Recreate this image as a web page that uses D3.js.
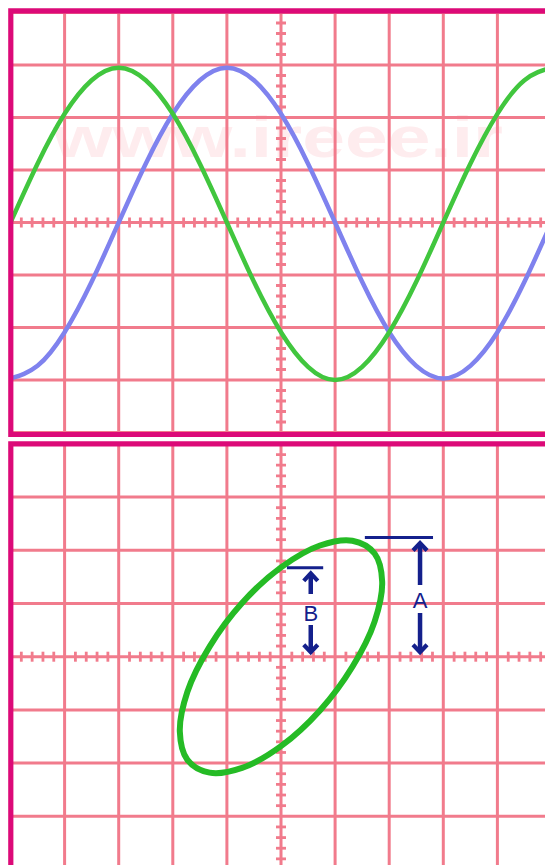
<!DOCTYPE html>
<html>
<head>
<meta charset="utf-8">
<script src="https://cdn.jsdelivr.net/npm/d3@7"></script>
<style>
  html, body { margin: 0; padding: 0; background: #ffffff; }
  svg { display: block; }
</style>
</head>
<body>
<div id="chart"></div>
<script>
// ---------------- data (in screen divisions) ----------------
const sampleX = [-5, -4.5, -4, -3.5, -3, -2.5, -2, -1.5, -1, -0.5, 0, 0.5, 1, 1.5, 2, 2.5, 3, 3.5, 4, 4.5, 5];
const greenWave = [0, 1.12, 2.07, 2.71, 2.95, 2.71, 2.07, 1.12, 0, -1.13, -2.09, -2.75, -3.0, -2.75, -2.09, -1.13, 0, 1.12, 2.07, 2.71, 2.95];
const blueWave  = [-2.97, -2.73, -2.09, -1.13, 0, 1.12, 2.07, 2.71, 2.95, 2.71, 2.07, 1.12, 0, -1.13, -2.09, -2.73, -2.97, -2.73, -2.09, -1.13, 0];
const ellipseX = [0, 0.72, 1.32, 1.73, 1.87, 1.73, 1.32, 0.72, 0, -0.72, -1.32, -1.73, -1.87, -1.73, -1.32, -0.72];
const ellipseY = [1.68, 2.09, 2.18, 1.94, 1.41, 0.66, -0.19, -1.01, -1.68, -2.09, -2.18, -1.94, -1.41, -0.66, 0.19, 1.01];
const markerLabels = ["A", "B"];
const markerLevels = [2.24, 1.67];
const gridDivsX = [-5, -4, -3, -2, -1, 0, 1, 2, 3, 4, 5];
const gridDivsY = [-4, -3, -2, -1, 0, 1, 2, 3, 4];
const watermark = "www.ireee.ir";

// ---------------- layout ----------------
const W = 545, H = 865;
const svg = d3.select("#chart").append("svg").attr("width", W).attr("height", H);
svg.append("rect").attr("width", W).attr("height", H).attr("fill", "#ffffff");

const x = d3.scaleLinear().domain([-5, 5]).range([281 - 5 * 54.1, 281 + 5 * 54.1]);
const yTop = d3.scaleLinear().domain([-4, 4]).range([222.5 + 4 * 52.5, 222.5 - 4 * 52.5]);
const yBot = d3.scaleLinear().domain([-4, 4]).range([656.7 + 4 * 53.2, 656.7 - 4 * 53.2]);

const GRID = "#f17b8c";
const BORDER = "#dc0a78";
const NAVY = "#14208c";

const defs = svg.append("defs");
defs.append("clipPath").attr("id", "clipTop").append("rect")
  .attr("x", 11).attr("y", 11).attr("width", W).attr("height", 434.5 - 11);
defs.append("clipPath").attr("id", "clipBot").append("rect")
  .attr("x", 11).attr("y", 443.8).attr("width", W).attr("height", H);

function drawPanel(y, clipId, withWatermark) {
  const g = svg.append("g").attr("clip-path", `url(#${clipId})`);
  if (withWatermark) {
    g.append("text")
      .attr("x", 53).attr("y", 157)
      .attr("textLength", 450).attr("lengthAdjust", "spacingAndGlyphs")
      .attr("font-family", "Liberation Sans, Arial, sans-serif")
      .attr("font-weight", "bold").attr("font-size", 58)
      .attr("fill", "#feecee")
      .text(watermark);
  }
  g.selectAll("line.vg").data(gridDivsX).join("line").attr("class", "vg")
    .attr("x1", d => x(d)).attr("x2", d => x(d))
    .attr("y1", y(4)).attr("y2", y(-4))
    .attr("stroke", GRID).attr("stroke-width", 3);
  g.selectAll("line.hg").data(gridDivsY).join("line").attr("class", "hg")
    .attr("y1", d => y(d)).attr("y2", d => y(d))
    .attr("x1", x(-5)).attr("x2", x(5))
    .attr("stroke", GRID).attr("stroke-width", 3);
  // minor ticks on center axes
  const minorX = d3.range(-25, 26).filter(i => i % 5 !== 0).map(i => i / 5);
  const minorY = d3.range(-20, 21).filter(i => i % 5 !== 0).map(i => i / 5);
  g.selectAll("line.tx").data(minorX).join("line").attr("class", "tx")
    .attr("x1", d => x(d)).attr("x2", d => x(d))
    .attr("y1", y(0) - 5).attr("y2", y(0) + 5)
    .attr("stroke", GRID).attr("stroke-width", 2.8);
  g.selectAll("line.ty").data(minorY).join("line").attr("class", "ty")
    .attr("y1", d => y(d)).attr("y2", d => y(d))
    .attr("x1", x(0) - 5).attr("x2", x(0) + 5)
    .attr("stroke", GRID).attr("stroke-width", 2.8);
  return g;
}

const gTop = drawPanel(yTop, "clipTop", true);
const gBot = drawPanel(yBot, "clipBot", false);

// ---------------- top panel waves ----------------
const waveLine = d3.line().x(d => x(d[0])).y(d => yTop(d[1])).curve(d3.curveNatural);
gTop.append("path").datum(sampleX.map((v, i) => [v, blueWave[i]]))
  .attr("d", waveLine).attr("fill", "none").attr("stroke", "#7f82ee").attr("stroke-width", 4.5);
gTop.append("path").datum(sampleX.map((v, i) => [v, greenWave[i]]))
  .attr("d", waveLine).attr("fill", "none").attr("stroke", "#41c63e").attr("stroke-width", 4.5);

// ---------------- bottom panel lissajous ----------------
const ellLine = d3.line().x(d => x(d[0])).y(d => yBot(d[1])).curve(d3.curveCatmullRomClosed.alpha(0.5));
gBot.append("path").datum(ellipseX.map((v, i) => [v, ellipseY[i]]))
  .attr("d", ellLine).attr("fill", "none").attr("stroke", "#25bb25").attr("stroke-width", 6);

// ---------------- A / B markers ----------------
const markerCfg = {
  A: { x0: 1.55, x1: 2.81, ax: 2.57, upEnd: 585, labelY: 608, downStart: 613 },
  B: { x0: 0.11, x1: 0.78, ax: 0.55, upEnd: 594, labelY: 621, downStart: 625 }
};
markerLabels.forEach((lab, i) => {
  const c = markerCfg[lab];
  const top = yBot(markerLevels[i]);
  const bottom = yBot(0) - 3;
  const ax = x(c.ax);
  const mg = svg.append("g").attr("stroke", NAVY).attr("fill", "none");
  mg.append("line").attr("x1", x(c.x0)).attr("x2", x(c.x1)).attr("y1", top).attr("y2", top)
    .attr("stroke-width", 3);
  const tipUp = top + 4;
  mg.append("line").attr("x1", ax).attr("x2", ax).attr("y1", tipUp + 2).attr("y2", c.upEnd).attr("stroke-width", 4.5);
  mg.append("path").attr("d", `M${ax - 7},${tipUp + 9}L${ax},${tipUp + 1.5}L${ax + 7},${tipUp + 9}`)
    .attr("stroke-width", 4.2).attr("stroke-linejoin", "miter");
  mg.append("line").attr("x1", ax).attr("x2", ax).attr("y1", c.downStart).attr("y2", bottom - 2).attr("stroke-width", 4.5);
  mg.append("path").attr("d", `M${ax - 7},${bottom - 9}L${ax},${bottom - 1.5}L${ax + 7},${bottom - 9}`)
    .attr("stroke-width", 4.2).attr("stroke-linejoin", "miter");
  svg.append("text").attr("x", ax).attr("y", c.labelY)
    .attr("text-anchor", "middle")
    .attr("font-family", "Liberation Sans, Arial, sans-serif")
    .attr("font-size", 22).attr("fill", NAVY).text(lab);
});

// ---------------- panel borders ----------------
svg.append("path").attr("d", `M${W + 5},10.8 H10.8 V434.5 H${W + 5}`)
  .attr("fill", "none").attr("stroke", BORDER).attr("stroke-width", 5.2);
svg.append("path").attr("d", `M${W + 5},443.8 H10.8 V${H + 5}`)
  .attr("fill", "none").attr("stroke", BORDER).attr("stroke-width", 5.2);
</script>
</body>
</html>
